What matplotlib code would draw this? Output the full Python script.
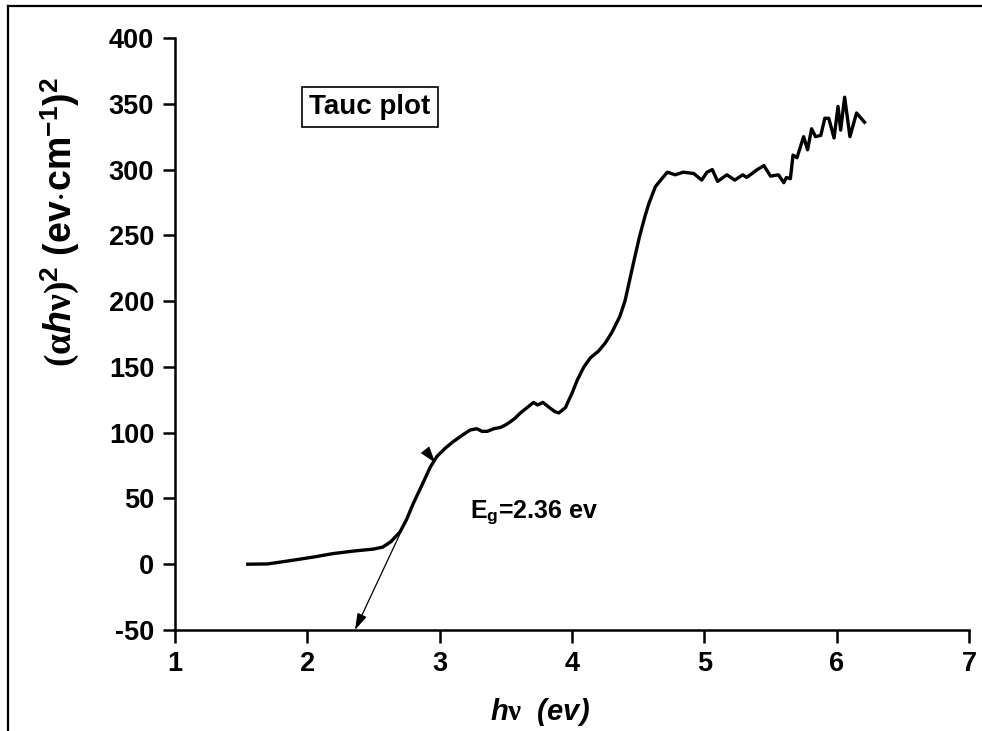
import matplotlib
matplotlib.use("Agg")
import matplotlib.pyplot as plt
from matplotlib.lines import Line2D

plt.rcParams['font.family'] = ['Liberation Sans', 'DejaVu Sans']
plt.rcParams['font.weight'] = 'bold'
plt.rcParams['axes.unicode_minus'] = False
plt.rcParams['mathtext.fontset'] = 'custom'
plt.rcParams['mathtext.rm'] = 'Liberation Serif'
plt.rcParams['mathtext.it'] = 'Liberation Serif:italic'
plt.rcParams['mathtext.bf'] = 'Liberation Sans:bold'
plt.rcParams['mathtext.sf'] = 'Liberation Sans:bold:italic'

# photon energy (eV) and (alpha h nu)^2
hv = [1.55, 1.70, 1.89, 2.05, 2.19, 2.35, 2.50, 2.57, 2.63, 2.70, 2.75, 2.80,
      2.87, 2.93, 2.98, 3.04, 3.10, 3.17, 3.23, 3.28, 3.32, 3.36, 3.41, 3.46,
      3.50, 3.53, 3.57, 3.61, 3.66, 3.71, 3.74, 3.78, 3.83, 3.87, 3.90, 3.95,
      4.00, 4.04, 4.09, 4.14, 4.20, 4.25, 4.30, 4.36, 4.40, 4.44, 4.48, 4.51,
      4.55, 4.58, 4.63, 4.67, 4.72, 4.78, 4.84, 4.92, 4.98, 5.02, 5.06, 5.10,
      5.17, 5.23, 5.29, 5.32, 5.40, 5.45, 5.50, 5.56, 5.60, 5.62, 5.65, 5.67,
      5.70, 5.75, 5.78, 5.81, 5.84, 5.88, 5.91, 5.94, 5.98, 6.01, 6.03, 6.06,
      6.10, 6.15, 6.21]
ahv2 = [0.0, 0.2, 3, 5.5, 8, 10, 11.5, 13, 17, 24.5, 34, 46,
        61, 74, 82, 88, 93, 98, 102, 103, 101, 101, 103, 104,
        106, 108, 111, 115, 119, 123, 121, 123, 119, 116, 115, 119,
        130, 140, 150, 157, 162, 168, 176, 188, 200, 218, 236, 249,
        264, 274, 287, 292, 298, 296, 298, 297, 292, 298, 300, 291,
        296, 292, 296, 294, 300, 303, 295, 296, 290, 294, 293, 311,
        309, 325, 315, 331, 325, 326, 339, 339, 324, 348, 330, 355,
        325, 343, 336]

eg = 2.36
xticks = [1, 2, 3, 4, 5, 6, 7]
yticks = [-50, 0, 50, 100, 150, 200, 250, 300, 350, 400]

fig = plt.figure(figsize=(9.82, 7.31), dpi=100)
ax = fig.add_axes([0.1782, 0.1382, 0.8086, 0.8098])

ax.plot(hv, ahv2, color='black', lw=2.4)

# tangent extrapolated to the energy axis
ax.annotate('', xy=(eg, -50), xytext=(2.70, 23),
            arrowprops=dict(arrowstyle='-|>,head_length=1.0,head_width=0.3',
                            lw=0.9, color='black', shrinkA=0, shrinkB=0,
                            mutation_scale=10))
ax.annotate('', xy=(2.967, 77), xytext=(2.897, 86),
            arrowprops=dict(arrowstyle='-|>,head_length=1.1,head_width=0.35',
                            lw=0.5, color='black', shrinkA=0, shrinkB=0,
                            mutation_scale=10))

ax.text(3.23, 35, 'E$_{\\mathbf{g}}$=2.36 ev', fontsize=18, fontweight='bold',
        va='baseline', ha='left')
ax.text(0.2456, 0.883, 'Tauc plot', transform=ax.transAxes, fontsize=20,
        fontweight='bold', ha='center', va='center',
        bbox=dict(boxstyle='square,pad=0.25', fc='white', ec='black', lw=1.2))

ax.set_xlim(1, 7)
ax.set_ylim(-50, 400)
ax.set_xticks(xticks)
ax.set_yticks(yticks)
for s in ['top', 'right']:
    ax.spines[s].set_visible(False)
for s in ['left', 'bottom']:
    ax.spines[s].set_linewidth(1.8)
ax.tick_params(direction='out', length=9, width=1.8, labelsize=19.5)
ax.tick_params(axis='x', pad=6)
ax.tick_params(axis='y', pad=6)
for lab in ax.get_xticklabels() + ax.get_yticklabels():
    lab.set_fontweight('bold')

ax.set_ylabel(r'$\mathrm{(\alpha}\mathsf{h}\mathrm{\nu)}^{\mathbf{2}}$ (ev$\cdot$cm$^{\mathbf{-1}}$)$^{\mathbf{2}}$',
              fontsize=27, fontweight='bold', va='center')
ax.yaxis.set_label_coords(-0.145, 0.69)
ax.set_xlabel(r'$\mathsf{h}\mathrm{\nu}$  (ev)', fontsize=21,
              fontweight='bold', fontstyle='italic', va='center')
ax.xaxis.set_label_coords(0.46, -0.138)

# outer frame, cut by the image edge on the right and bottom
fig.add_artist(Line2D([0.0085, 0.0085], [0.0, 0.992], color='black', lw=1.6,
                      transform=fig.transFigure))
fig.add_artist(Line2D([0.0085, 1.0], [0.992, 0.992], color='black', lw=1.6,
                      transform=fig.transFigure))

fig.savefig('out.png', dpi=100)
